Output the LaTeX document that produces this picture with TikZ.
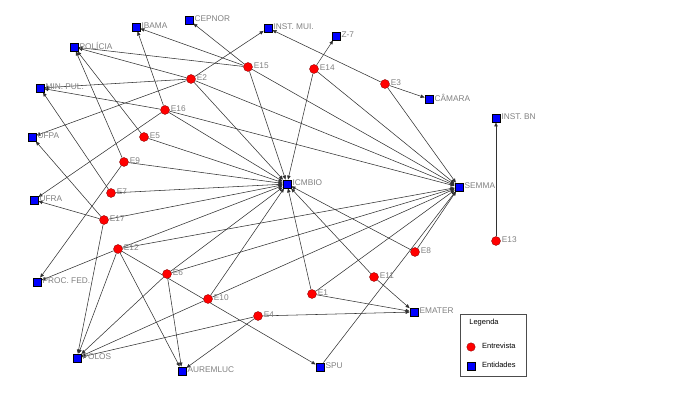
\documentclass[tikz,border=0pt]{standalone}
\usepackage{fontspec}
\setmainfont{Liberation Sans}
\usetikzlibrary{arrows.meta}
\pgfdeclarelayer{background}
\pgfsetlayers{background,main}
\definecolor{entblue}{RGB}{0,0,255}
\definecolor{ivwred}{RGB}{255,0,0}
\definecolor{lblgray}{RGB}{128,128,128}
\definecolor{linkgray}{RGB}{50,50,50}
\begin{document}
\begin{tikzpicture}[x=1pt,y=-1pt,
 ent/.style={draw=black,line width=0.3pt,fill=entblue,rectangle,minimum size=8.5pt,inner sep=0pt,label distance=1.5pt},
 ivw/.style={draw=black!50!red,line width=0.3pt,fill=ivwred,circle,minimum size=9pt,inner sep=0pt,label distance=1pt},
 lbl/.style={text=lblgray,font=\fontsize{8.3}{9}\selectfont,inner sep=1pt,yshift=1pt},
 link/.style={draw=linkgray,line width=0.55pt,-{Triangle[length=4pt,width=3.4pt]}},
 legtext/.style={text=black,font=\fontsize{7.5}{9}\selectfont,inner sep=0pt,anchor=west},
]
\useasboundingbox (0,0) rectangle (673,409);
% entities
\node[ent,label={[lbl]right:IBAMA}] (IBAMA) at (136,27) {};
\node[ent,label={[lbl]right:CEPNOR}] (CEPNOR) at (189,20) {};
\node[ent,label={[lbl]right:INST. MUI.}] (INSTMUI) at (268,28) {};
\node[ent,label={[lbl]right:Z-7}] (Z7) at (336,36) {};
\node[ent,label={[lbl]right:POLÍCIA}] (POLICIA) at (74,47) {};
\node[ent,label={[lbl]right:MIN. PUL.}] (MINPUL) at (40,88) {};
\node[ent,label={[lbl]right:UFPA}] (UFPA) at (32,137) {};
\node[ent,label={[lbl]right:UFRA}] (UFRA) at (34,200) {};
\node[ent,label={[lbl]right:PROC. FED.}] (PROCFED) at (37,282) {};
\node[ent,label={[lbl]right:POLOS}] (POLOS) at (77,358) {};
\node[ent,label={[lbl]right:AUREMLUC}] (AUREMLUC) at (182,371) {};
\node[ent,label={[lbl]right:SPU}] (SPU) at (320,367) {};
\node[ent,label={[lbl]right:EMATER}] (EMATER) at (414,312) {};
\node[ent,label={[lbl]right:SEMMA}] (SEMMA) at (459,187) {};
\node[ent,label={[lbl]right:ICMBIO}] (ICMBIO) at (287,184) {};
\node[ent,label={[lbl]right:CÂMARA}] (CAMARA) at (429,99) {};
\node[ent,label={[lbl]right:INST. BN}] (INSTBN) at (496,118) {};
% interviews
\node[ivw,label={[lbl]right:E15}] (E15) at (248,67) {};
\node[ivw,label={[lbl]right:E14}] (E14) at (314,69) {};
\node[ivw,label={[lbl]right:E2}] (E2) at (191,79) {};
\node[ivw,label={[lbl]right:E16}] (E16) at (165,110) {};
\node[ivw,label={[lbl]right:E5}] (E5) at (144,137) {};
\node[ivw,label={[lbl]right:E9}] (E9) at (124,162) {};
\node[ivw,label={[lbl]right:E7}] (E7) at (111,193) {};
\node[ivw,label={[lbl]right:E3}] (E3) at (385,84) {};
\node[ivw,label={[lbl]right:E17}] (E17) at (104,220) {};
\node[ivw,label={[lbl]right:E12}] (E12) at (118,249) {};
\node[ivw,label={[lbl]right:E6}] (E6) at (167,274) {};
\node[ivw,label={[lbl]right:E10}] (E10) at (208,299) {};
\node[ivw,label={[lbl]right:E4}] (E4) at (258,316) {};
\node[ivw,label={[lbl]right:E1}] (E1) at (312,294) {};
\node[ivw,label={[lbl]right:E11}] (E11) at (374,277) {};
\node[ivw,label={[lbl]right:E8}] (E8) at (415,252) {};
\node[ivw,label={[lbl]right:E13}] (E13) at (496,241) {};
% links
\begin{pgfonlayer}{background}
\foreach \a/\b in {E15/IBAMA,E15/CEPNOR,E15/POLICIA,E15/ICMBIO,E15/SEMMA,
  E14/Z7,E14/ICMBIO,E14/SEMMA,
  E2/INSTMUI,E2/POLICIA,E2/MINPUL,E2/UFPA,E2/ICMBIO,E2/SEMMA,
  E16/IBAMA,E16/MINPUL,E16/UFRA,E16/ICMBIO,E16/SEMMA,
  E5/POLICIA,E5/ICMBIO,
  E9/POLICIA,E9/PROCFED,E9/ICMBIO,
  E7/MINPUL,E7/ICMBIO,
  E3/INSTMUI,E3/CAMARA,E3/SEMMA,
  E17/UFPA,E17/UFRA,E17/POLOS,E17/ICMBIO,
  E12/PROCFED,E12/POLOS,E12/AUREMLUC,E12/SPU,E12/ICMBIO,E12/SEMMA,
  E6/POLOS,E6/AUREMLUC,E6/ICMBIO,E6/SEMMA,
  E10/POLOS,E10/ICMBIO,E10/SEMMA,
  E4/POLOS,E4/AUREMLUC,E4/EMATER,
  E1/ICMBIO,E1/SEMMA,E1/EMATER,
  E11/ICMBIO,E11/EMATER,
  E8/ICMBIO,E8/SEMMA,
  E13/INSTBN,SPU/SEMMA}
  {\draw[link] (\a) -- (\b);}
\end{pgfonlayer}
% legend
\draw[draw=black!70,line width=0.4pt] (460,314) rectangle (526,376);
\node[text=black,font=\fontsize{7.5}{9}\selectfont,inner sep=0pt] (legtitle) at (484,323) {Legenda};
\node[ivw,minimum size=8.5pt] (legivw) at (471,347) {};
\node[legtext] (legivwt) at (482,346) {Entrevista};
\node[ent,minimum size=8pt] (legent) at (471,366) {};
\node[legtext] (legentt) at (482,365) {Entidades};
\end{tikzpicture}
\end{document}
